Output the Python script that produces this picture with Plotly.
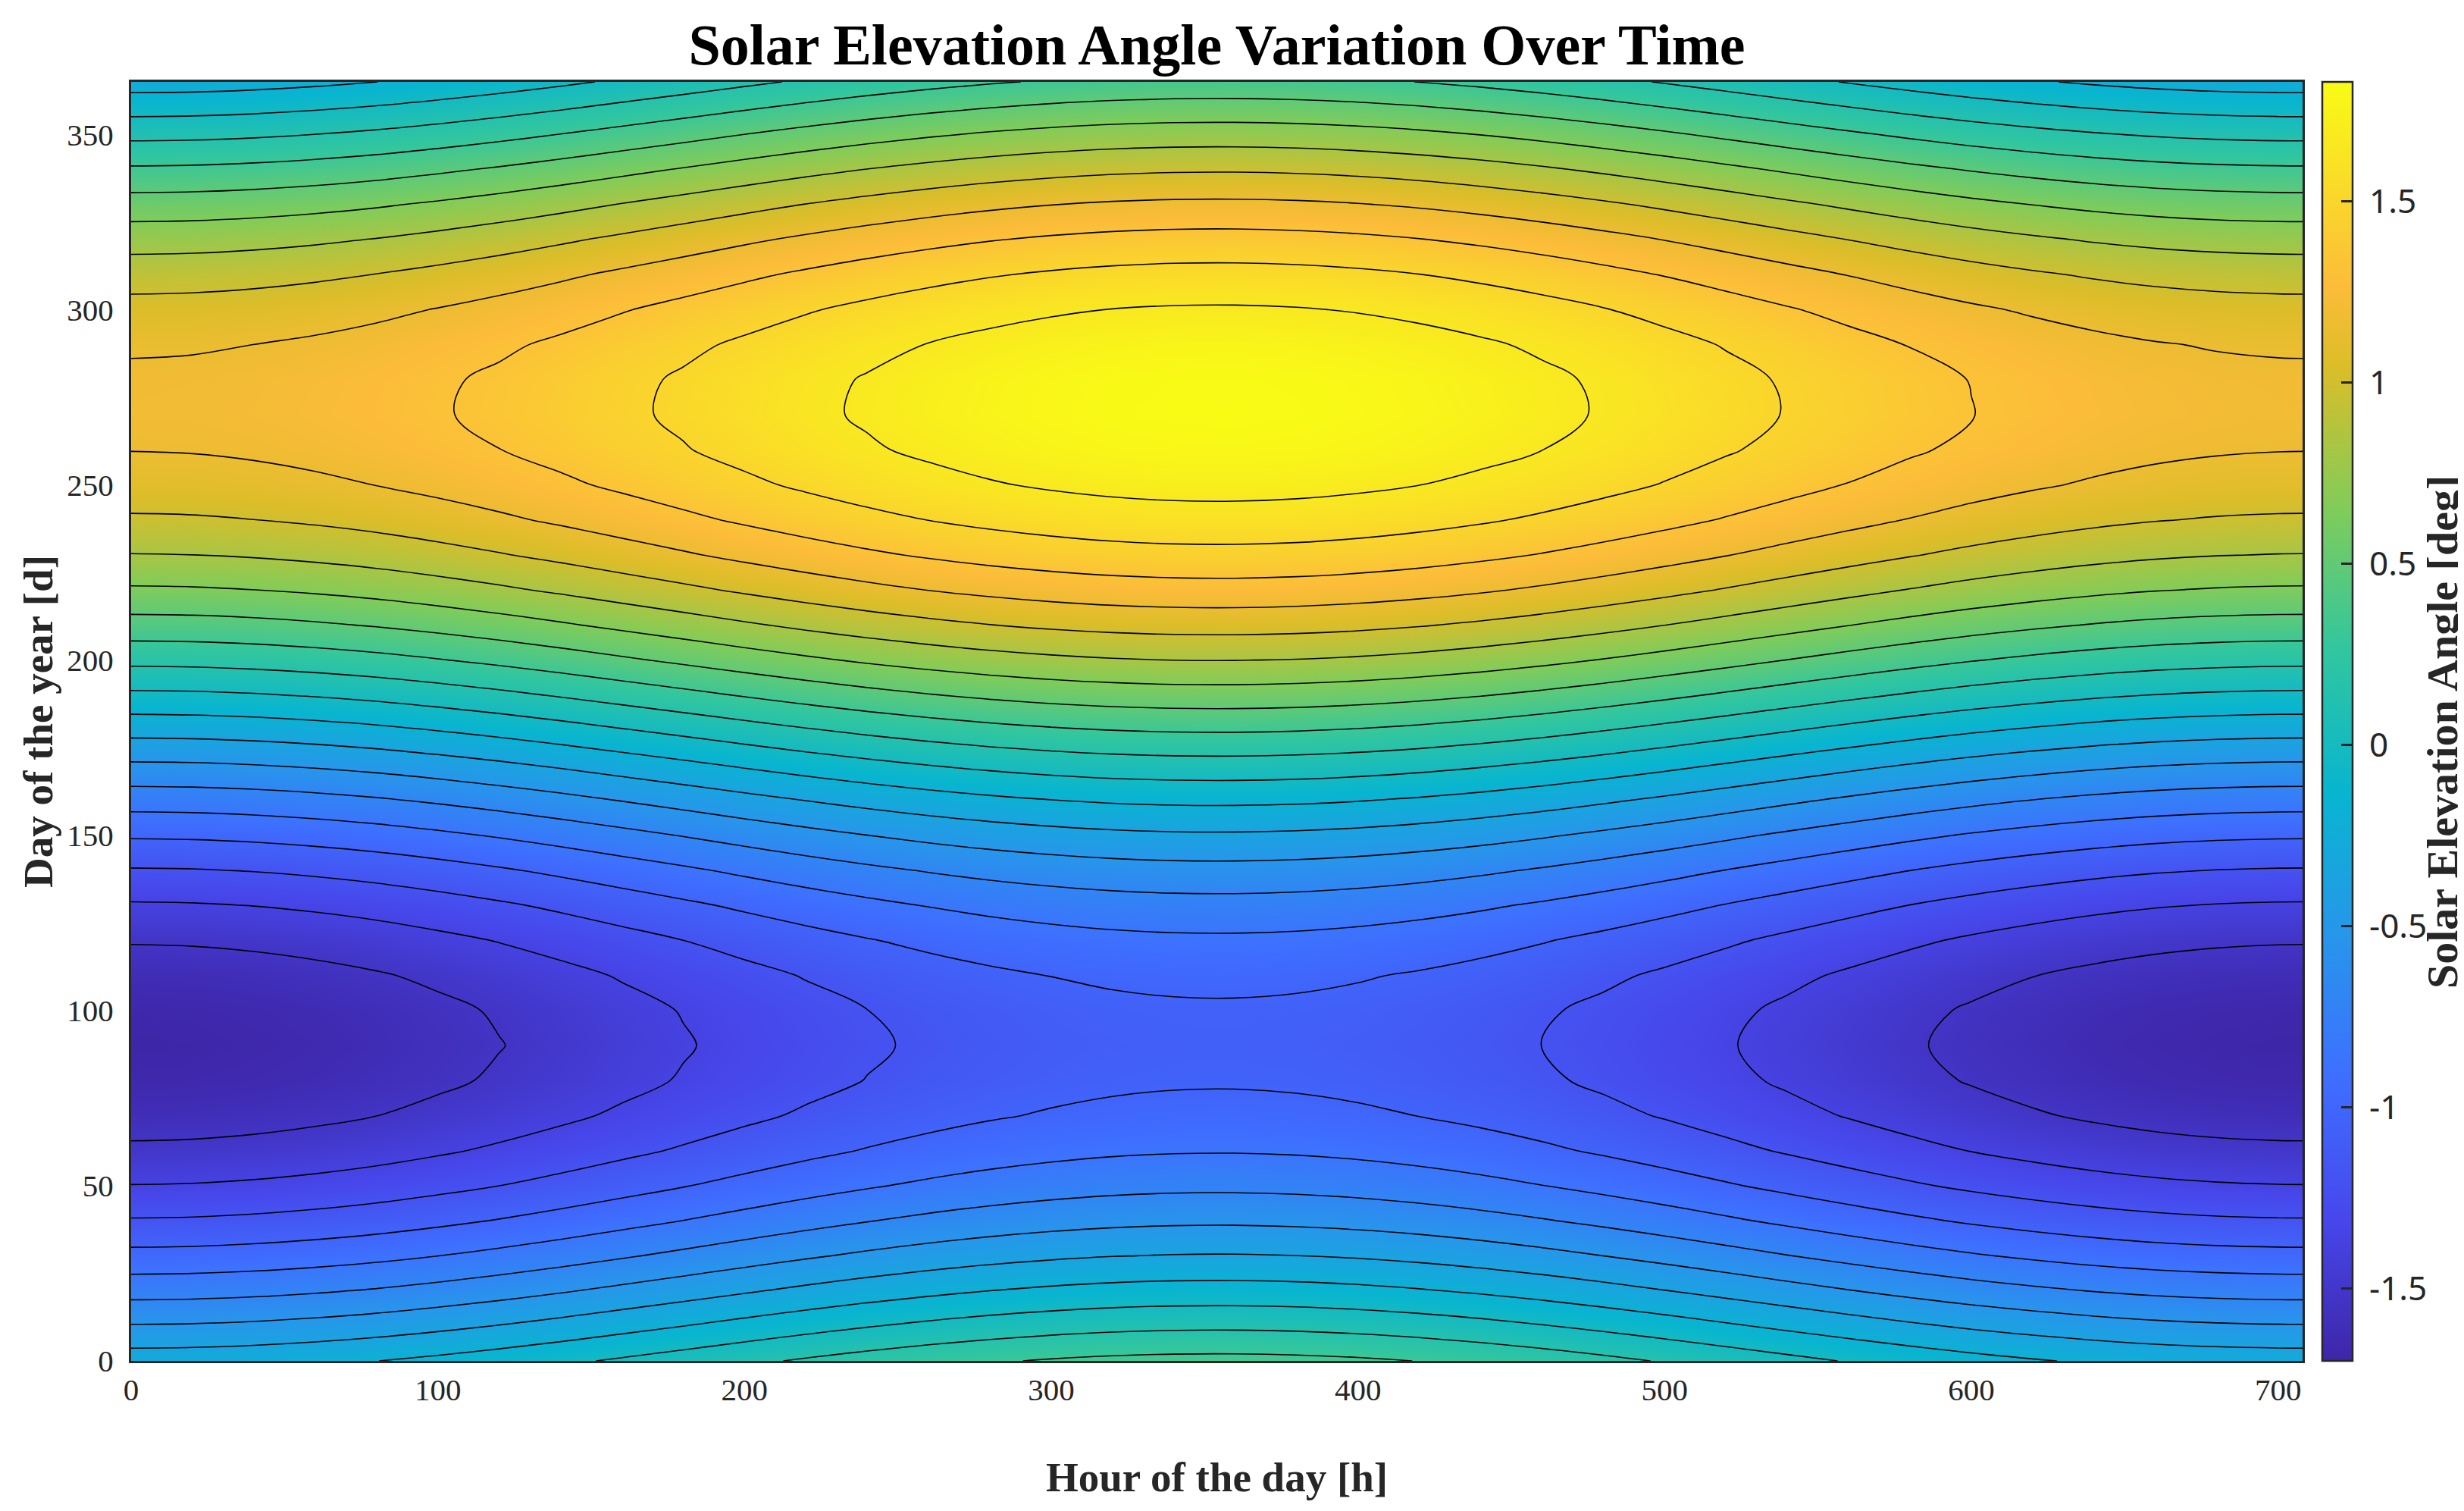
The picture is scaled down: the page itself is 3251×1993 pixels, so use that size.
import numpy as np
import plotly.graph_objects as go

# Day-of-year samples and the seasonal part of the elevation field
DAYS = [0, 10, 20, 30, 40, 50, 60, 70, 80, 90, 100, 110, 120, 130, 140, 150, 160, 170, 180,
        190, 200, 210, 220, 230, 240, 250, 260, 270, 280, 290, 300, 310, 320, 330, 340, 350,
        360, 365]
DAY_TERM = [0.051, -0.197, -0.437, -0.662, -0.866, -1.043, -1.186, -1.293, -1.360, -1.384,
            -1.365, -1.305, -1.204, -1.065, -0.893, -0.692, -0.470, -0.231, 0.016,
            0.265, 0.508, 0.737, 0.948, 1.132, 1.284, 1.400, 1.477, 1.512, 1.504, 1.454,
            1.363, 1.233, 1.068, 0.875, 0.657, 0.422, 0.176, 0.052]

# Hour samples and the hourly part of the field
HOURS = [0, 20, 40, 60, 80, 100, 120, 140, 160, 180, 200, 220, 240, 260, 280, 300, 320, 340,
         360, 380, 400, 420, 440, 460, 480, 500, 520, 540, 560, 580, 600, 620, 640, 660, 680,
         700, 708]
HOUR_TERM = [-0.316, -0.311, -0.296, -0.272, -0.240, -0.199, -0.153, -0.102, -0.047, 0.008,
             0.064, 0.118, 0.168, 0.212, 0.250, 0.280, 0.302, 0.314, 0.316, 0.308, 0.290,
             0.263, 0.228, 0.186, 0.138, 0.086, 0.031, -0.025, -0.080, -0.133, -0.182,
             -0.224, -0.260, -0.288, -0.306, -0.315, -0.316]

Z_MIN, Z_MAX = -1.70, 1.83
N_LEVELS = 20
X_TICKS = [0, 100, 200, 300, 400, 500, 600, 700]
Y_TICKS = [0, 50, 100, 150, 200, 250, 300, 350]
CB_TICKS = [-1.5, -1, -0.5, 0, 0.5, 1, 1.5]
CB_TICKTEXT = ["-1.5", "-1", "-0.5", "0", "0.5", "1", "1.5"]

Z = np.array(DAY_TERM)[:, None] + np.array(HOUR_TERM)[None, :]

parula = [
    [0.000, "rgb(62,38,168)"],
    [0.111, "rgb(71,71,235)"],
    [0.222, "rgb(62,111,255)"],
    [0.333, "rgb(39,150,235)"],
    [0.444, "rgb(8,181,208)"],
    [0.556, "rgb(49,198,159)"],
    [0.667, "rgb(129,204,89)"],
    [0.778, "rgb(220,189,41)"],
    [0.840, "rgb(252,188,58)"],
    [0.889, "rgb(250,207,48)"],
    [1.000, "rgb(249,251,21)"],
]

step = (Z_MAX - Z_MIN) / (N_LEVELS + 1)
serif = "Liberation Serif"
PLOT_L, PLOT_R, PLOT_T, PLOT_B = 165, 3030, 100, 1787
pw = PLOT_R - PLOT_L
ph = PLOT_B - PLOT_T

fig = go.Figure()
fig.add_trace(go.Contour(
    x=HOURS, y=DAYS, z=Z,
    zmin=Z_MIN, zmax=Z_MAX,
    colorscale=parula, showscale=False,
    contours=dict(start=Z_MIN + step, end=Z_MAX - step + 1e-6, size=step, coloring="heatmap"),
    line=dict(color="black", width=1.6, smoothing=1),
    hoverinfo="skip",
))
# colour bar only (smooth gradient, no level lines)
fig.add_trace(go.Scatter(
    x=[HOURS[0], HOURS[0]], y=[DAYS[0], DAYS[0]], mode="markers",
    marker=dict(size=1, opacity=0, color=[Z_MIN, Z_MAX], cmin=Z_MIN, cmax=Z_MAX,
                colorscale=parula, showscale=True,
                colorbar=dict(
                    x=(3056 - PLOT_L) / pw, xanchor="left", xref="paper",
                    y=0.5, yanchor="middle", len=1, lenmode="fraction", ypad=0, xpad=0,
                    thickness=40, thicknessmode="pixels",
                    outlinecolor="#262626", outlinewidth=2.5,
                    tickvals=CB_TICKS, ticktext=["\u00a0" + t for t in CB_TICKTEXT],
                    ticks="inside", ticklen=16, tickwidth=2.5, tickcolor="#262626",
                    tickfont=dict(family="Noto Sans", size=44, color="#262626"),
                )),
    hoverinfo="skip", showlegend=False,
))

fig.add_annotation(
    text="<b>Solar Elevation Angle [deg]</b>", textangle=-90,
    xref="paper", yref="paper",
    x=(3214 - PLOT_L) / pw, y=(PLOT_B - 958) / ph,
    xanchor="center", yanchor="middle", showarrow=False,
    font=dict(family=serif, size=58, color="#262626"),
)

fig.update_layout(
    width=3251, height=1993,
    margin=dict(l=PLOT_L, r=3251 - PLOT_R, t=PLOT_T, b=1993 - PLOT_B),
    paper_bgcolor="white", plot_bgcolor="white",
    title=dict(text="<b>Solar Elevation Angle Variation Over Time</b>",
               x=0.5, xref="paper", xanchor="center",
               y=1 - 50 / 1993, yanchor="middle",
               font=dict(family=serif, size=76, color="black")),
    showlegend=False,
)
fig.update_xaxes(
    range=[0, 708], tickvals=X_TICKS, ticks="", showgrid=False, zeroline=False,
    showline=True, linecolor="#262626", linewidth=3, mirror=True,
    tickfont=dict(family=serif, size=41, color="#262626"), ticklabelstandoff=0,
    title=dict(text="<b>Hour of the day [h]</b>", standoff=74,
               font=dict(family=serif, size=55, color="#262626")),
)
fig.update_yaxes(
    range=[0, 365], tickvals=Y_TICKS, ticks="", showgrid=False, zeroline=False,
    showline=True, linecolor="#262626", linewidth=3, mirror=True,
    tickfont=dict(family=serif, size=41, color="#262626"), ticklabelstandoff=12,
    title=dict(text="<b>Day of the year [d]</b>", standoff=2,
               font=dict(family=serif, size=55, color="#262626")),
)

fig.write_html("out.html")
